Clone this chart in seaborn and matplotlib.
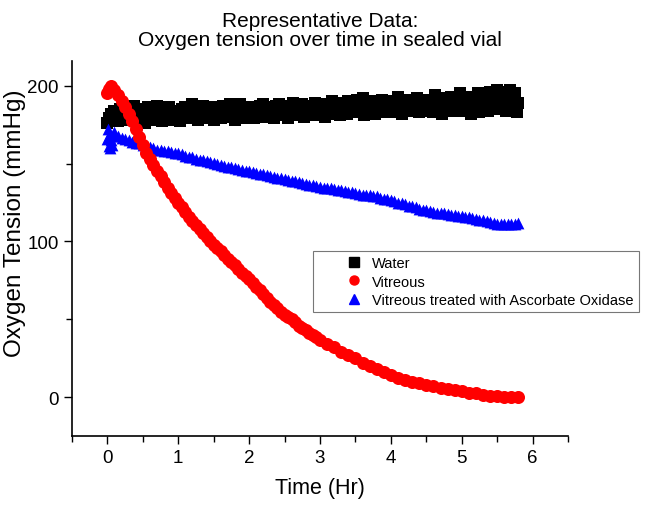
import numpy as np
import pandas as pd
import matplotlib
matplotlib.use('Agg')
import matplotlib.pyplot as plt
import seaborn as sns
from matplotlib.ticker import MultipleLocator
from matplotlib.legend_handler import HandlerLine2D

# Water: one reading every 0.025 hr (rows of 0.5 hr)
water_step = 0.025
water_values = [
    176, 179, 182, 178, 184, 180, 177, 185, 181, 179, 186, 182, 178, 184, 180, 187, 181, 177, 183, 185,
    179, 176, 182, 186, 180, 178, 184, 181, 187, 179, 183, 177, 185, 180, 182, 186, 178, 184, 181, 179,
    183, 177, 185, 181, 186, 179, 184, 182, 188, 180, 183, 178, 185, 181, 187, 182, 179, 184, 186, 180,
    178, 184, 186, 181, 179, 187, 183, 181, 185, 188, 180, 184, 178, 186, 182, 188, 180, 185, 183, 179,
    184, 186, 181, 179, 185, 183, 187, 182, 188, 180, 184, 186, 181, 185, 179, 187, 183, 188, 182, 185,
    181, 187, 179, 185, 183, 189, 184, 181, 186, 182, 188, 180, 185, 183, 187, 184, 182, 189, 181, 186,
    183, 187, 185, 180, 188, 184, 186, 190, 182, 185, 187, 181, 189, 184, 186, 182, 190, 185, 183, 188,
    185, 191, 183, 187, 192, 181, 188, 185, 186, 190, 184, 182, 189, 187, 185, 191, 183, 188, 186, 190,
    183, 189, 187, 184, 193, 186, 182, 188, 190, 185, 187, 191, 184, 189, 186, 192, 183, 190, 185, 188,
    187, 191, 184, 189, 183, 194, 186, 188, 190, 182, 192, 185, 189, 187, 193, 184, 188, 191, 186, 195,
    184, 190, 188, 186, 193, 182, 189, 191, 187, 195, 183, 190, 186, 192, 188, 184, 196, 189, 185, 191,
    197, 185, 192, 196, 188, 184, 193, 197, 186, 190, 195, 183, 189]
water_time = [round(i * water_step, 3) for i in range(len(water_values))]

vitreous_time = [0.00, 0.02, 0.05, 0.10, 0.15, 0.20, 0.25, 0.30, 0.35, 0.40, 0.45,
                 0.50, 0.55, 0.60, 0.65, 0.70, 0.75, 0.80, 0.85, 0.90, 0.95,
                 1.00, 1.05, 1.10, 1.15, 1.20, 1.25, 1.30, 1.35, 1.40, 1.45,
                 1.50, 1.55, 1.60, 1.65, 1.70, 1.75, 1.80, 1.85, 1.90, 1.95,
                 2.00, 2.05, 2.10, 2.15, 2.20, 2.25, 2.30, 2.35, 2.40, 2.45,
                 2.50, 2.55, 2.60, 2.65, 2.70, 2.75, 2.80, 2.85, 2.90, 2.95,
                 3.00, 3.10, 3.20, 3.30, 3.40, 3.50, 3.60, 3.70, 3.80, 3.90,
                 4.00, 4.10, 4.20, 4.30, 4.40, 4.50, 4.60, 4.70, 4.80, 4.90,
                 5.00, 5.10, 5.20, 5.30, 5.40, 5.50, 5.60, 5.70, 5.80]
vitreous_values = [195, 198, 200, 197, 194, 190, 186, 182, 177, 172, 167,
                   162, 157, 153, 149, 145, 142, 138, 134.5, 131, 128,
                   125, 122, 119, 116, 113, 110.5, 108, 105.5, 103, 100.5,
                   98, 96, 94, 91.5, 89, 87, 85, 82.5, 80, 78,
                   76, 73.5, 71, 69, 66, 63.5, 61, 59, 57, 55,
                   53, 51.5, 50, 48, 46, 44.5, 43, 41.5, 40, 38.5,
                   37, 34, 32, 29, 27, 25, 22, 20, 18, 16,
                   14, 12.5, 11, 10, 9, 8, 7, 6, 5, 4.5,
                   4, 3, 2.5, 1.5, 1, 0.5, 0, 0, 0]

# Ascorbate oxidase: scattered start, then one reading every 0.05 hr from 0.10 hr
oxidase_start_time = [0.00, 0.01, 0.02, 0.03, 0.04, 0.05, 0.06, 0.08]
oxidase_start_values = [166, 172, 161, 168, 160, 165, 162, 168]
oxidase_step = 0.05
oxidase_values = [170, 168, 166.5, 166, 165, 164, 163.5, 163, 162, 161, 160.5, 160, 159, 158.5,
                  158, 158, 157.5, 157, 156.5, 156, 155, 154.5, 154, 153, 152.5, 152, 151.5, 151,
                  150.5, 150, 149, 148.5, 148, 147.5, 147, 146.5, 146, 145.5, 145, 144.5, 144,
                  143.5, 143, 142.5, 142, 141.5, 141, 140.5, 140, 139.5, 139, 138.5, 138, 137.5,
                  137, 136.5, 136, 135.5, 135, 134.5, 134, 134, 133.5, 133, 133, 132.5, 132, 131.5,
                  131, 130.5, 130, 130, 129.5, 129, 129, 128, 127.5, 127, 126.5, 126, 125, 124.5,
                  124, 123, 122.5, 122, 121, 120.5, 120, 119.5, 119, 118.5, 118, 118, 117.5, 117,
                  117, 116.5, 116.5, 116, 115.5, 115, 114.5, 114, 113.5, 113, 112.5, 112, 111.5,
                  111, 111, 111, 111, 111.5, 112]
oxidase_time = oxidase_start_time + [round(0.10 + i * oxidase_step, 3) for i in range(len(oxidase_values))]
oxidase_all = oxidase_start_values + oxidase_values

labels = ['Water', 'Vitreous', 'Vitreous treated with Ascorbate Oxidase']

df = pd.concat([
    pd.DataFrame({'time': water_time, 'o2': water_values, 'sample': labels[0]}),
    pd.DataFrame({'time': oxidase_time, 'o2': oxidase_all, 'sample': labels[2]}),
    pd.DataFrame({'time': vitreous_time, 'o2': vitreous_values, 'sample': labels[1]}),
])

sns.set_style('ticks')
plt.rcParams['font.family'] = ['Liberation Sans', 'DejaVu Sans']
plt.rcParams.update({'text.color': 'black', 'axes.labelcolor': 'black',
                     'xtick.color': 'black', 'ytick.color': 'black',
                     'axes.edgecolor': 'black'})

fig = plt.figure(figsize=(6.66, 5.06), dpi=100)
ax = fig.add_axes([0.108, 0.136, 0.745, 0.742])

colors = {labels[0]: 'black', labels[1]: '#ff0000', labels[2]: '#0000ff'}
markers = {labels[0]: 's', labels[1]: 'o', labels[2]: '^'}
sizes = {labels[0]: 68, labels[1]: 88, labels[2]: 72}
zorders = {labels[0]: 2, labels[2]: 3, labels[1]: 4}

for name in [labels[0], labels[2], labels[1]]:
    sub = df[df['sample'] == name]
    sns.scatterplot(data=sub, x='time', y='o2', color=colors[name], marker=markers[name],
                    s=sizes[name], linewidth=0, ax=ax, zorder=zorders[name], legend=False)

ax.set_xlim(-0.5, 6.5)
ax.set_ylim(-25, 216)
ax.xaxis.set_major_locator(MultipleLocator(1))
ax.xaxis.set_minor_locator(MultipleLocator(0.5))
ax.yaxis.set_major_locator(MultipleLocator(100))
ax.yaxis.set_minor_locator(MultipleLocator(50))
ax.tick_params(which='major', length=6, width=1, labelsize=13.5, direction='out')
ax.tick_params(which='minor', length=4, width=1, direction='out')
sns.despine(ax=ax)
for sp in ['left', 'bottom']:
    ax.spines[sp].set_linewidth(1.2)

ax.set_xlabel('Time (Hr)', fontsize=15.5, labelpad=8)
ax.set_ylabel('Oxygen Tension (mmHg)', fontsize=17.5)
ax.yaxis.set_label_coords(-0.093, 0.57)
ax.set_title('Representative Data:\nOxygen tension over time in sealed vial', fontsize=15,
             pad=11, linespacing=1.05)

handles = [plt.Line2D([], [], linestyle='', marker=markers[n], color=colors[n], markersize=6.5)
           for n in labels]
leg = ax.legend(handles, labels, loc='upper left', bbox_to_anchor=(0.486, 0.493),
                fontsize=10.5, frameon=True, fancybox=False, borderpad=0.35,
                handlelength=3.0, handletextpad=0.7, labelspacing=0.3, borderaxespad=0,
                handler_map={plt.Line2D: HandlerLine2D(numpoints=1, xpad=1.9)})
leg.get_frame().set_edgecolor('#555555')
leg.get_frame().set_linewidth(0.8)

fig.savefig('out.png', dpi=100)
